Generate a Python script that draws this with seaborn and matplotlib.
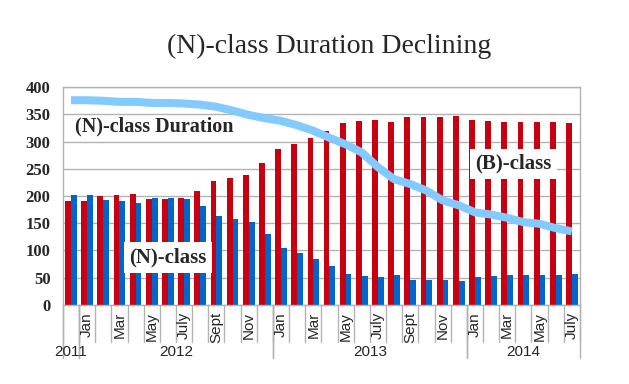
import pandas as pd
import matplotlib
matplotlib.use("Agg")
import matplotlib.pyplot as plt
import seaborn as sns

# DATA
months = ["Dec", "Jan", "Feb", "Mar", "Apr", "May", "Jun", "July", "Aug", "Sept", "Oct", "Nov", "Dec",
          "Jan", "Feb", "Mar", "Apr", "May", "Jun", "July", "Aug", "Sept", "Oct", "Nov", "Dec",
          "Jan", "Feb", "Mar", "Apr", "May", "Jun", "July"]
shown_months = ["Jan", "Mar", "May", "July", "Sept", "Nov"]
years = ["2011", "2012", "2013", "2014"]
year_spans = [(0, 0), (1, 12), (13, 24), (25, 31)]

b_class = [190, 190, 200, 201, 203, 194, 194, 197, 210, 227, 234, 239, 261, 287, 296, 307,
           320, 334, 338, 340, 336, 345, 345, 345, 347, 340, 338, 336, 336, 336, 336, 334]
n_class = [201, 201, 192, 190, 188, 197, 196, 194, 181, 164, 157, 152, 130, 104, 95, 84,
           71, 57, 53, 51, 55, 46, 46, 46, 44, 51, 53, 55, 55, 55, 55, 57]
n_duration = [376, 376, 375, 373, 373, 371, 371, 370, 368, 364, 357, 349, 343, 338, 330, 320,
              307, 295, 280, 253, 231, 222, 210, 192, 183, 170, 166, 160, 152, 149, 141, 135]

RED = "#c9000f"
BLUE = "#0066cc"
LIGHT = "#83caff"
GRAY = "#b3b3b3"
SERIF = "Liberation Serif"
SANS = "Liberation Sans"

sns.set_style("white")

n = len(months)
idx = list(range(n))
df = pd.DataFrame({
    "idx": idx * 2,
    "value": b_class + n_class,
    "series": ["B"] * n + ["N"] * n,
})

fig = plt.figure(figsize=(6.29, 3.84), dpi=100)
left, right, bottom, top = 0.100, 0.922, 0.206, 0.773
ax = fig.add_axes([left, bottom, right - left, top - bottom])

sns.barplot(data=df, x="idx", y="value", hue="series", hue_order=["B", "N"],
            palette={"B": RED, "N": BLUE}, width=0.72, gap=0, saturation=1,
            linewidth=0, edgecolor="none", legend=False, ax=ax, zorder=2)
sns.lineplot(x=idx, y=n_duration, color=LIGHT, linewidth=5.8, ax=ax,
             solid_capstyle="butt", zorder=3)

ax.set_xlim(-0.5, n - 0.5)
ax.set_ylim(0, 400)
ax.set_yticks(range(0, 401, 50))
ax.set_yticklabels([str(v) for v in range(0, 401, 50)],
                   fontfamily=SERIF, fontweight="bold", fontsize=12)
ax.tick_params(axis="y", length=0, pad=9)
ax.set_xticks([])
ax.set_xlabel("")
ax.set_ylabel("")
ax.yaxis.grid(True, color=GRAY, linewidth=1)
ax.set_axisbelow(True)
for s in ax.spines.values():
    s.set_color(GRAY)
    s.set_linewidth(1)

# multi-level category axis
ax_h_px = fig.get_figheight() * fig.dpi * (top - bottom)
def px(p):
    return p / ax_h_px

trans = ax.get_xaxis_transform()
for k in range(n + 1):
    ax.plot([k - 0.5, k - 0.5], [0, -px(37)], color=GRAY, lw=1,
            transform=trans, clip_on=False)
for k, m in enumerate(months):
    if m in shown_months:
        ax.text(k, -px(7), m, rotation=90, ha="center", va="top",
                fontfamily=SANS, fontsize=11, transform=trans)
for (a, b), y in zip(year_spans, years):
    ax.text((a + b) / 2, -px(47), y, ha="center", va="center",
            fontfamily=SANS, fontsize=11, transform=trans)
    for edge in (a - 0.5, b + 0.5):
        ax.plot([edge, edge], [0, -px(53)], color=GRAY, lw=1,
                transform=trans, clip_on=False)

# annotations
ax.text(0.25, 327, "(N)-class Duration", ha="left", va="center",
        fontfamily=SERIF, fontweight="bold", fontsize=14.5, zorder=5)
box = dict(boxstyle="square,pad=0.25", facecolor="white", edgecolor="none")
ax.text(6.0, 87, "(N)-class", ha="center", va="center", fontfamily=SERIF,
        fontweight="bold", fontsize=15, bbox=box, zorder=5)
ax.text(27.4, 259, "(B)-class", ha="center", va="center", fontfamily=SERIF,
        fontweight="bold", fontsize=15, bbox=box, zorder=5)

fig.text(0.523, 0.878, "(N)-class Duration Declining", ha="center", va="center",
         fontfamily=SERIF, fontsize=20)

fig.savefig("out.png", dpi=100, facecolor="white")
